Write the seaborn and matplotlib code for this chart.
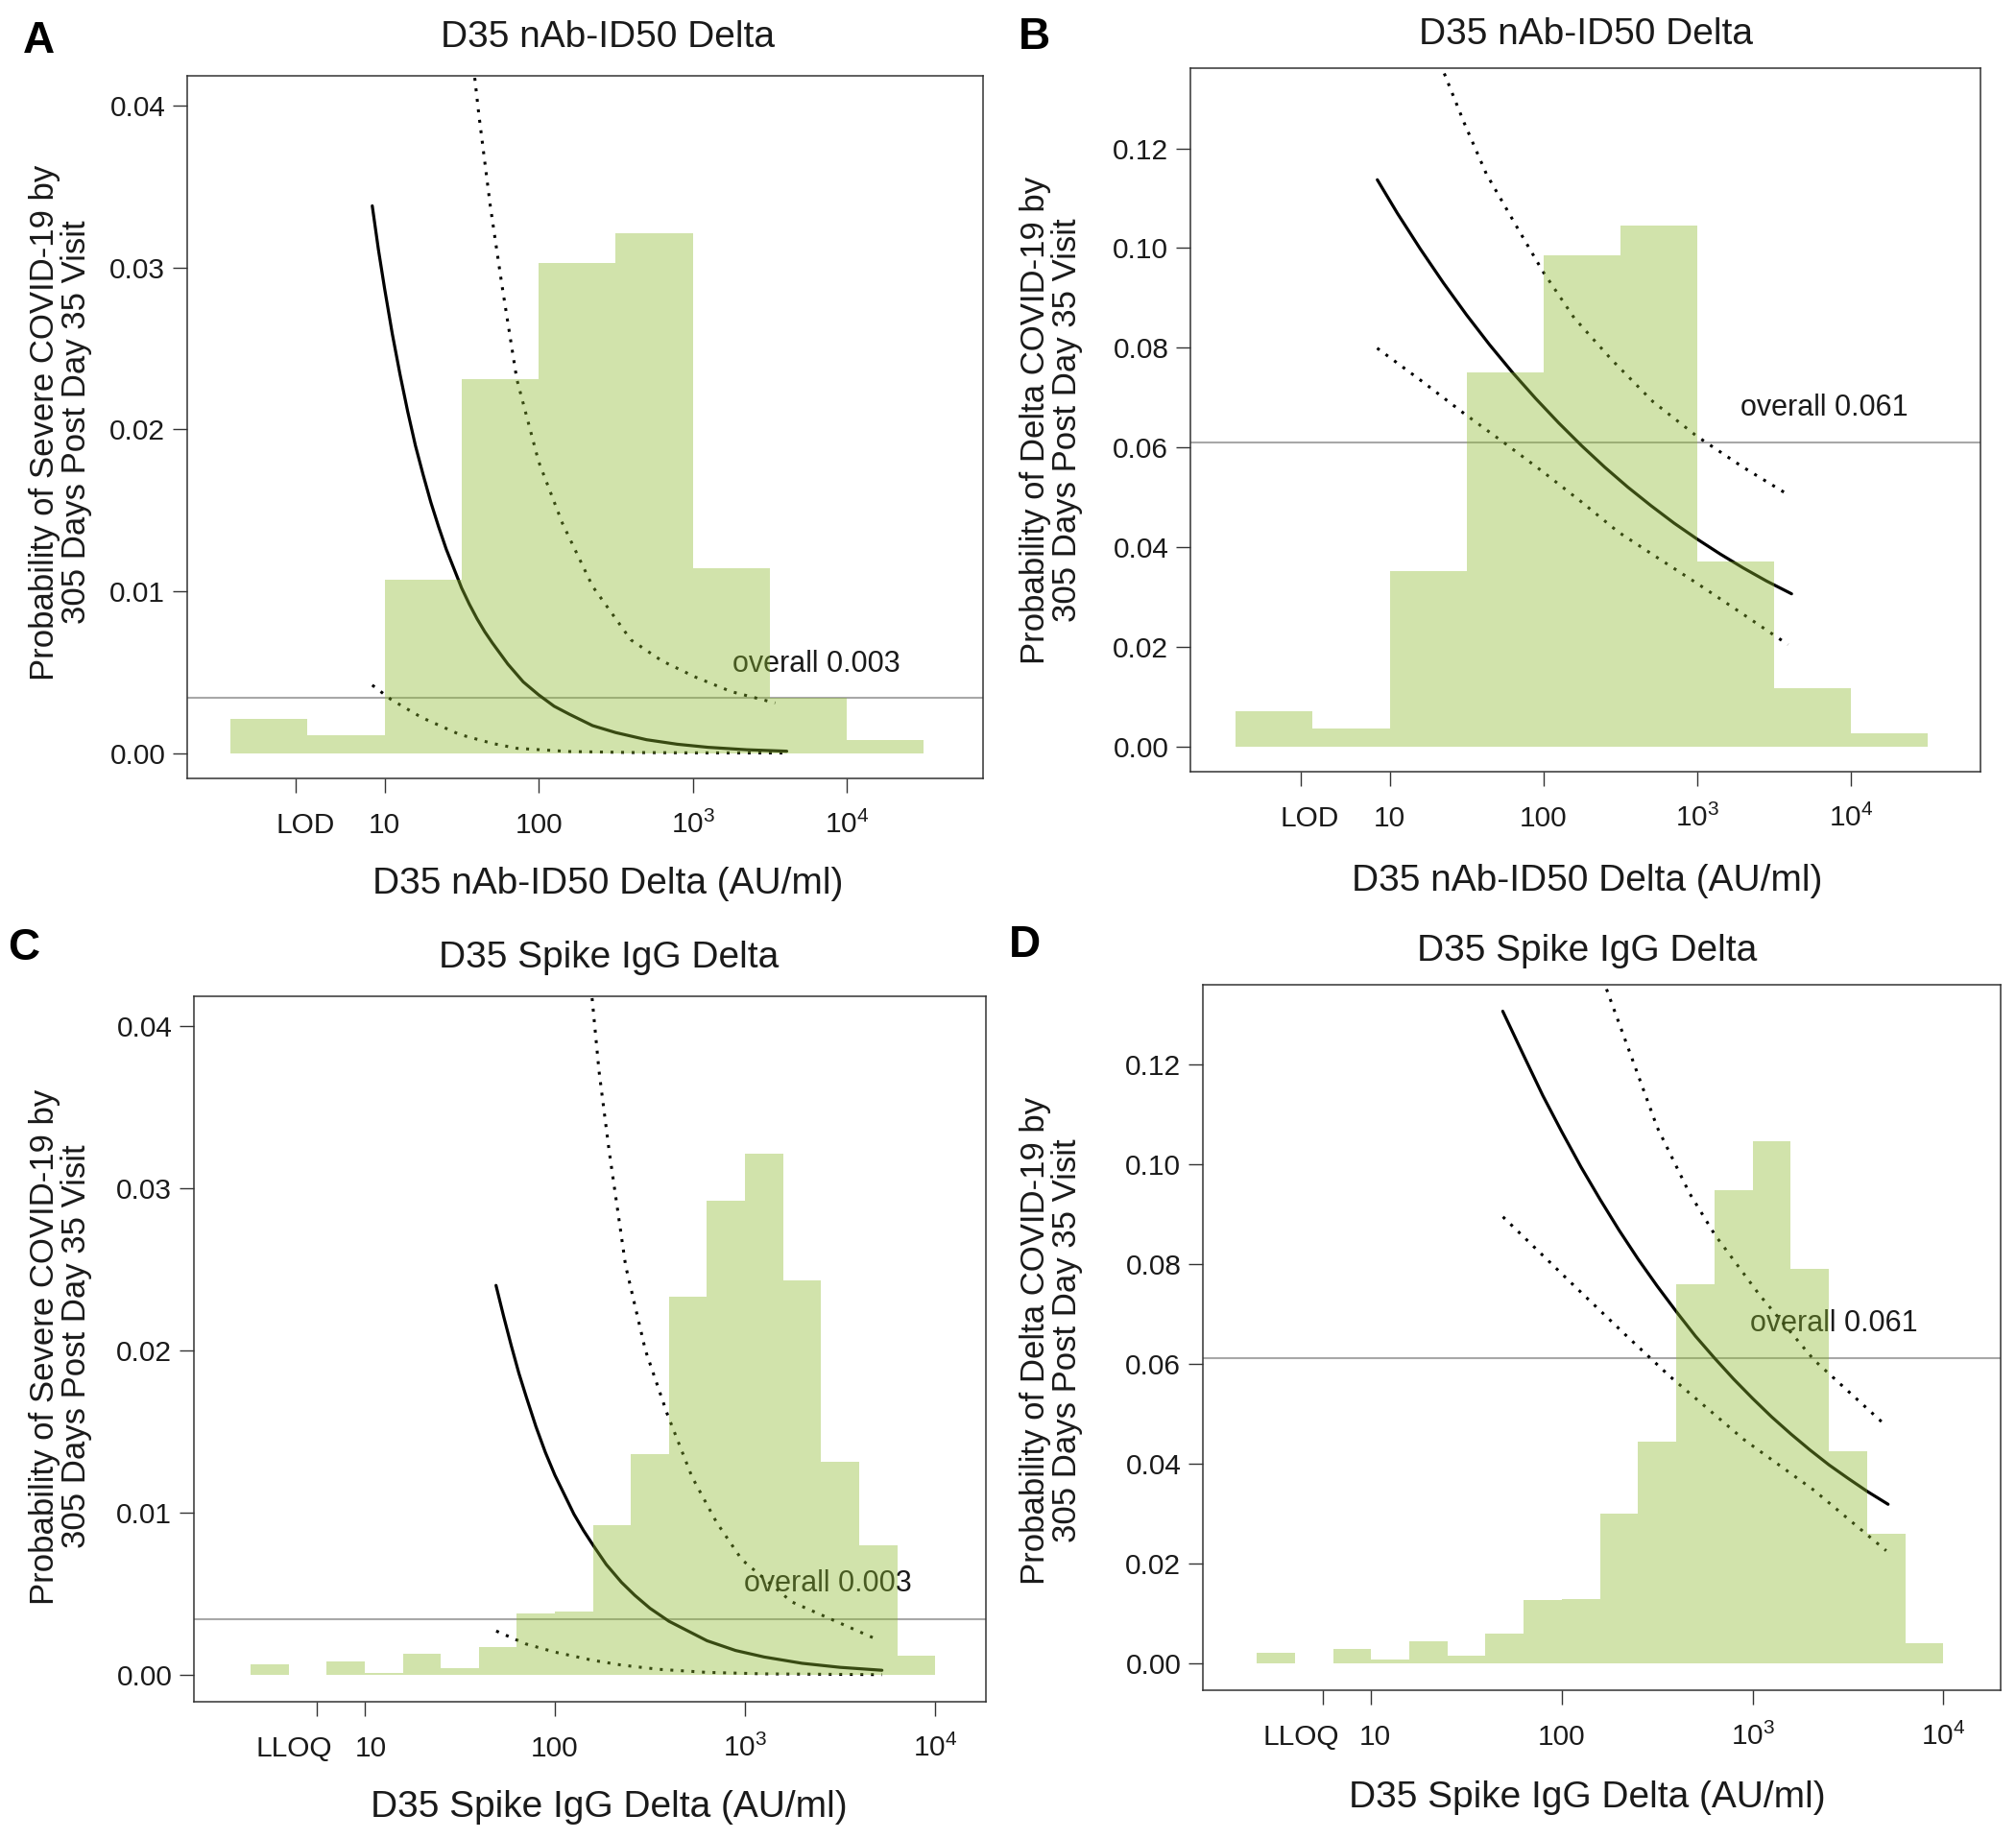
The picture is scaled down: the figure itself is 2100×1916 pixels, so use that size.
import matplotlib
matplotlib.use('Agg')
import matplotlib.pyplot as plt
import matplotlib.transforms as mtrans
import seaborn as sns

sns.set_style('ticks')
plt.rcParams['font.family'] = ['Liberation Sans', 'DejaVu Sans']
plt.rcParams['mathtext.fontset'] = 'custom'
plt.rcParams['mathtext.rm'] = 'Liberation Sans'
plt.rcParams['mathtext.it'] = 'Liberation Sans:italic'
plt.rcParams['mathtext.bf'] = 'Liberation Sans:bold'

# ---- data (x values are log10 of the marker level) ----
# nAb-ID50 histogram bins (panels A, B)
nab_edges = [0.0, 0.5, 1.0, 1.5, 2.0, 2.5, 3.0, 3.5, 4.0, 4.5]
hist_a = [0.0021, 0.0011, 0.0107, 0.0231, 0.0303, 0.0321, 0.0114, 0.0034, 0.0008]
hist_b = [0.0070, 0.0036, 0.0351, 0.0750, 0.0986, 0.1046, 0.0371, 0.0116, 0.0026]

# Spike IgG histogram bins (panels C, D)
igg_edges = [0.4, 0.6, 0.8, 1.0, 1.2, 1.4, 1.6, 1.8, 2.0, 2.2, 2.4, 2.6, 2.8,
             3.0, 3.2, 3.4, 3.6, 3.8, 4.0]
hist_c = [0.00065, 0.0, 0.00083, 0.00014, 0.0013, 0.00043, 0.0017, 0.0038,
          0.0039, 0.0092, 0.0136, 0.0233, 0.0292, 0.0321, 0.0243, 0.0131,
          0.0080, 0.0012]
hist_d = [0.0021, 0.0, 0.0028, 0.0007, 0.0043, 0.0015, 0.0058, 0.0127,
          0.0129, 0.0299, 0.0444, 0.0758, 0.0948, 0.1046, 0.0789, 0.0424,
          0.0259, 0.0040]

# panel A curves
fit_a_x = [0.92, 0.96, 1.0, 1.05, 1.1, 1.15, 1.2, 1.25, 1.3, 1.35, 1.4, 1.45,
           1.5, 1.55, 1.6, 1.65, 1.7, 1.8, 1.9, 2.0, 2.1, 2.2, 2.35, 2.5, 2.7,
           2.9, 3.1, 3.35, 3.61]
fit_a_y = [0.0338, 0.0311, 0.0287, 0.0259, 0.0234, 0.0211, 0.0190, 0.0172,
           0.0155, 0.0140, 0.0126, 0.0114, 0.0102, 0.0092, 0.0083, 0.0075,
           0.0068, 0.0055, 0.0044, 0.0036, 0.0029, 0.0024, 0.0017, 0.00127,
           0.00083, 0.00055, 0.00036, 0.00021, 0.00012]
up_a_x = [1.57, 1.611, 1.686, 1.76, 1.858, 2.0, 2.154, 2.35, 2.598, 2.8,
          3.017, 3.25, 3.535]
up_a_y = [0.0430, 0.0395, 0.0338, 0.0290, 0.0231, 0.0180, 0.0142, 0.0103,
          0.0070, 0.0057, 0.0047, 0.0038, 0.0031]
lo_a_x = [0.92, 1.044, 1.241, 1.488, 1.7, 1.858, 2.2, 2.6, 3.0, 3.61]
lo_a_y = [0.0042, 0.0033, 0.0022, 0.00115, 0.0006, 0.0003, 0.0001, 0.00004,
          0.00002, 0.00001]

# panel B curves
fit_b_x = [0.92, 1.05, 1.2, 1.35, 1.5, 1.65, 1.8, 1.95, 2.1, 2.25, 2.4, 2.55,
           2.7, 2.85, 3.0, 3.15, 3.3, 3.45, 3.615]
fit_b_y = [0.1137, 0.1070, 0.0998, 0.0930, 0.0866, 0.0806, 0.0750, 0.0698,
           0.0649, 0.0603, 0.0560, 0.0520, 0.0483, 0.0448, 0.0416, 0.0386,
           0.0358, 0.0332, 0.0306]
up_b_x = [1.33, 1.484, 1.629, 1.819, 1.997, 2.2, 2.444, 2.712, 3.0, 3.3, 3.592]
up_b_y = [0.1370, 0.1252, 0.1149, 0.1047, 0.0953, 0.0860, 0.0776, 0.0692,
          0.0622, 0.0560, 0.0505]
lo_b_x = [0.919, 1.2, 1.484, 1.75, 1.997, 2.25, 2.488, 2.75, 3.0, 3.3, 3.592]
lo_b_y = [0.0799, 0.0735, 0.0668, 0.0608, 0.0551, 0.0490, 0.0430, 0.0377,
          0.0327, 0.0265, 0.0204]

# panel C curves
fit_c_x = [1.69, 1.73, 1.77, 1.81, 1.85, 1.9, 1.95, 2.0, 2.05, 2.1, 2.15, 2.2,
           2.27, 2.35, 2.42, 2.5, 2.6, 2.7, 2.8, 2.95, 3.1, 3.3, 3.5, 3.72]
fit_c_y = [0.0240, 0.0221, 0.0203, 0.0186, 0.0171, 0.0153, 0.0137, 0.0123,
           0.0111, 0.0099, 0.0089, 0.0080, 0.0068, 0.0057, 0.0049, 0.0041,
           0.0033, 0.0027, 0.0021, 0.0015, 0.0011, 0.00071, 0.00046, 0.00028]
up_c_x = [2.185, 2.232, 2.285, 2.372, 2.476, 2.59, 2.721, 2.85, 2.983, 3.245,
          3.69]
up_c_y = [0.0430, 0.0372, 0.0323, 0.0252, 0.0200, 0.0161, 0.0122, 0.0094,
          0.0071, 0.0045, 0.0022]
lo_c_x = [1.691, 1.848, 2.0, 2.197, 2.35, 2.545, 2.8, 3.1, 3.72]
lo_c_y = [0.0027, 0.0019, 0.0014, 0.0009, 0.0006, 0.00034, 0.00015, 0.00006,
          0.00001]

# panel D curves
fit_d_x = [1.69, 1.8, 1.9, 2.0, 2.1, 2.2, 2.3, 2.4, 2.5, 2.6, 2.7, 2.8, 2.9,
           3.0, 3.1, 3.2, 3.3, 3.4, 3.5, 3.6, 3.71]
fit_d_y = [0.1306, 0.1217, 0.1137, 0.1064, 0.0994, 0.0929, 0.0867, 0.0809,
           0.0755, 0.0704, 0.0655, 0.0611, 0.0569, 0.0530, 0.0493, 0.0459,
           0.0427, 0.0397, 0.0370, 0.0344, 0.0318]
up_d_x = [2.215, 2.366, 2.5, 2.668, 2.802, 3.037, 3.322, 3.683]
up_d_y = [0.1370, 0.1213, 0.1073, 0.0942, 0.0858, 0.0737, 0.0607, 0.0481]
lo_d_x = [1.691, 2.064, 2.332, 2.567, 2.953, 3.322, 3.70]
lo_d_y = [0.0894, 0.0756, 0.0658, 0.0574, 0.0448, 0.0346, 0.0225]

# overall rates
overall_severe = 0.0034
overall_delta = 0.061

# axis ticks / labels
nab_ticks = [0.422, 1, 2, 3, 4]
nab_ticklabels = ['LOD', '10', '100', r'$\mathregular{10^{3}}$', r'$\mathregular{10^{4}}$']
igg_ticks = [0.746, 1, 2, 3, 4]
igg_ticklabels = ['LLOQ', '10', '100', r'$\mathregular{10^{3}}$', r'$\mathregular{10^{4}}$']
severe_yticks = [0.00, 0.01, 0.02, 0.03, 0.04]
delta_yticks = [0.00, 0.02, 0.04, 0.06, 0.08, 0.10, 0.12]

ylab_severe = 'Probability of Severe COVID-19 by\n305 Days Post Day 35 Visit'
ylab_delta = 'Probability of Delta COVID-19 by\n305 Days Post Day 35 Visit'
######################################

W, H = 2100, 1916
fig = plt.figure(figsize=(W / 100, H / 100), dpi=100)
fig.patch.set_facecolor('white')

BAR_COLOR = '#8ebb2f'
INK = '#1a1a1a'


def rect(l, t, r, b):
    return [l / W, 1 - b / H, (r - l) / W, (b - t) / H]


def panel(box, xlim, ylim, edges, heights, fits, overall, otext, opos,
          ticks, ticklabels, tick_shift, yticks):
    ax = fig.add_axes(rect(*box))
    # overall line + label first, the translucent histogram goes on top
    ax.axhline(overall, color='#a8a8a8', lw=1.5, zorder=1)
    ax.text(opos[0], opos[1], otext, fontsize=22, ha='left', va='baseline',
            color=INK, zorder=1)
    (fx, fy), (ux, uy), (lx, ly) = fits
    sns.lineplot(x=fx, y=fy, ax=ax, color='black', lw=2.3, zorder=2)
    sns.lineplot(x=ux, y=uy, ax=ax, color='black', lw=2.2,
                 linestyle=(0, (1, 2.6)), zorder=2)
    sns.lineplot(x=lx, y=ly, ax=ax, color='black', lw=2.2,
                 linestyle=(0, (1, 2.6)), zorder=2)
    centers = [(a + b) / 2 for a, b in zip(edges[:-1], edges[1:])]
    sns.histplot(x=centers, weights=heights, bins=edges, ax=ax,
                 color=BAR_COLOR, alpha=0.4, linewidth=0, zorder=5)

    ax.set_xlim(*xlim)
    ax.set_ylim(*ylim)
    ax.set_xlabel('')
    ax.set_ylabel('')
    ax.set_xticks(ticks)
    ax.set_xticklabels(ticklabels)
    ax.set_yticks(yticks)
    ax.set_yticklabels([f'{v:.2f}' for v in yticks])
    ax.tick_params(axis='both', length=10.8, width=1.0, color='#333333',
                   labelsize=21.5, labelcolor=INK, direction='out')
    ax.tick_params(axis='x', pad=30.5)
    ax.tick_params(axis='y', pad=5.5)
    for sp in ax.spines.values():
        sp.set_visible(True)
        sp.set_linewidth(1.1)
        sp.set_color('#333333')
    for lab, dx in zip(ax.get_xticklabels(), tick_shift):
        lab.set_va('baseline')
        if dx:
            off = mtrans.ScaledTranslation(dx / 100, 0, fig.dpi_scale_trans)
            lab.set_transform(lab.get_transform() + off)
    return ax


# A
panel((195, 79, 1024, 811), (-0.281, 4.884), (-0.00156, 0.04183),
      nab_edges, hist_a,
      ((fit_a_x, fit_a_y), (up_a_x, up_a_y), (lo_a_x, lo_a_y)),
      overall_severe, 'overall 0.003', (3.26, 0.0050),
      nab_ticks, nab_ticklabels, [10, 0, 0, 0, 0], severe_yticks)
# B
panel((1240, 71, 2063, 804), (-0.296, 4.844), (-0.0051, 0.1361),
      nab_edges, hist_b,
      ((fit_b_x, fit_b_y), (up_b_x, up_b_y), (lo_b_x, lo_b_y)),
      overall_delta, 'overall 0.061', (3.28, 0.0664),
      nab_ticks, nab_ticklabels, [9, 0, 0, 0, 0], delta_yticks)
# C
panel((202, 1038, 1027, 1773), (0.101, 4.267), (-0.00166, 0.04182),
      igg_edges, hist_c,
      ((fit_c_x, fit_c_y), (up_c_x, up_c_y), (lo_c_x, lo_c_y)),
      overall_severe, 'overall 0.003', (2.997, 0.00513),
      igg_ticks, igg_ticklabels, [-23, 6, 0, 0, 0], severe_yticks)
# D
panel((1253, 1026, 2084, 1761), (0.118, 4.30), (-0.00546, 0.1359),
      igg_edges, hist_d,
      ((fit_d_x, fit_d_y), (up_d_x, up_d_y), (lo_d_x, lo_d_y)),
      overall_delta, 'overall 0.061', (2.986, 0.0665),
      igg_ticks, igg_ticklabels, [-23, 4, 0, 0, 0], delta_yticks)

# titles, axis titles, panel letters
titles = [(633, 49, 'D35 nAb-ID50 Delta'), (1652, 46, 'D35 nAb-ID50 Delta'),
          (634, 1008, 'D35 Spike IgG Delta'), (1653, 1001, 'D35 Spike IgG Delta')]
for x, y, s in titles:
    fig.text(x / W, 1 - y / H, s, fontsize=28, ha='center', va='baseline', color=INK)

xlabels = [(633, 931, 'D35 nAb-ID50 Delta (AU/ml)'), (1653, 928, 'D35 nAb-ID50 Delta (AU/ml)'),
           (634, 1893, 'D35 Spike IgG Delta (AU/ml)'), (1653, 1883, 'D35 Spike IgG Delta (AU/ml)')]
for x, y, s in xlabels:
    fig.text(x / W, 1 - y / H, s, fontsize=28, ha='center', va='baseline', color=INK)

ylabels = [(63, 440, ylab_severe), (1095, 438, ylab_delta),
           (63, 1403, ylab_severe), (1095, 1397, ylab_delta)]
for x, y, s in ylabels:
    fig.text(x / W, 1 - y / H, s, fontsize=25, rotation=90, ha='center',
             va='center', multialignment='center', linespacing=1.0, color=INK)

letters = [(40, 55, 'A'), (1077, 51, 'B'), (25, 1000, 'C'), (1067, 997, 'D')]
for x, y, s in letters:
    fig.text(x / W, 1 - y / H, s, fontsize=33, fontweight='bold', ha='center',
             va='baseline', color='black')

fig.savefig('out.png', dpi=100, facecolor='white')
